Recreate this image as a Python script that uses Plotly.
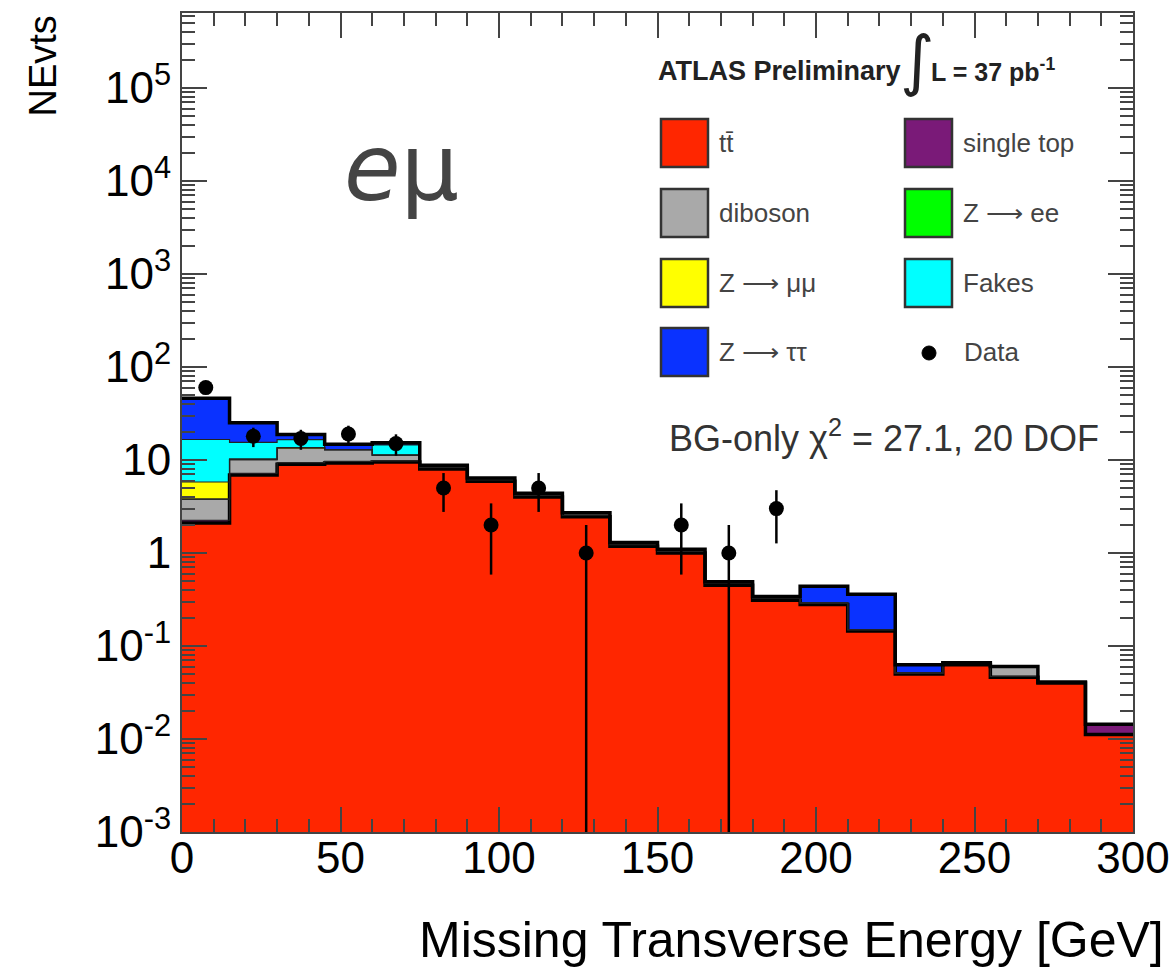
import numpy as np
import plotly.graph_objects as go

# ---------------- data ----------------
bin_edges = [0, 15, 30, 45, 60, 75, 90, 105, 120, 135, 150, 165, 180, 195, 210, 225, 240, 255, 270, 285, 300]

ttbar = [2.1, 6.9, 9.0, 9.3, 9.5, 8.0, 5.9, 4.0, 2.45, 1.18, 1.0, 0.45, 0.31, 0.28, 0.145, 0.05, 0.063, 0.046, 0.040, 0.0112]
single_top = [0.15, 0.3, 0.35, 0.35, 0.3, 0.3, 0.2, 0.15, 0.1, 0.05, 0.04, 0.02, 0.015, 0.01, 0.005, 0.001, 0.003, 0.001, 0.001, 0.0032]
diboson = [1.55, 2.9, 4.1, 3.3, 1.5, 0.4, 0.3, 0.25, 0.15, 0.07, 0.06, 0.02, 0.015, 0.0, 0.0, 0.0, 0.0, 0.013, 0.0, 0.0]
z_ee = [0.0] * 20
z_mumu = [2.0, 0.2, 0.1, 0.0, 0.0, 0.0, 0.0, 0.0, 0.0, 0.0, 0.0, 0.0, 0.0, 0.0, 0.0, 0.0, 0.0, 0.0, 0.0, 0.0]
fakes = [10.8, 5.2, 3.0, 0.0, 3.2, 0.1, 0.0, 0.0, 0.0, 0.0, 0.0, 0.0, 0.0, 0.0, 0.0, 0.0, 0.0, 0.0, 0.0, 0.0]
z_tautau = [29.4, 9.7, 2.3, 1.8, 0.8, 0.0, 0.0, 0.0, 0.0, 0.0, 0.0, 0.0, 0.0, 0.15, 0.21, 0.012, 0.0, 0.0, 0.0, 0.0]
data_counts = [60, 18, 17, 19, 15, 5, 2, 5, 1, 0, 2, 1, 3, 0, 0, 0, 0, 0, 0, 0]

y_tickvals = [1e-3, 1e-2, 1e-1, 1, 10, 100, 1e3, 1e4, 1e5]
y_ticktext = ["10<sup>-3</sup>", "10<sup>-2</sup>", "10<sup>-1</sup>", "1", "10",
              "10<sup>2</sup>", "10<sup>3</sup>", "10<sup>4</sup>", "10<sup>5</sup>"]

components = [
    ("tt\u0304", ttbar, "#ff2600"),
    ("single top", single_top, "#7a1a78"),
    ("diboson", diboson, "#a9a9a9"),
    ("Z \u27f6 ee", z_ee, "#00ff00"),
    ("Z \u27f6 \u03bc\u03bc", z_mumu, "#ffff00"),
    ("Fakes", fakes, "#00ffff"),
    ("Z \u27f6 \u03c4\u03c4", z_tautau, "#0a32ff"),
]

# ---------------- figure ----------------
edges = np.array(bin_edges, dtype=float)
centers = 0.5 * (edges[:-1] + edges[1:])
widths = np.diff(edges)

fig = go.Figure()

for name, vals, col in components:
    fig.add_trace(go.Bar(x=centers, y=vals, width=widths, marker=dict(color=col, line=dict(width=0)),
                         name=name, showlegend=False))

# outline step lines of cumulative stack
cum = np.zeros(len(centers))
n_comp = len(components)
for i, (name, vals, col) in enumerate(components):
    cum = cum + np.array(vals)
    ys = list(cum) + [cum[-1]]
    if i == 0 or i == n_comp - 1:
        lw, lc = 3.5, "black"
    else:
        lw, lc = 1.2, "#222222"
    fig.add_trace(go.Scatter(x=edges, y=ys, mode="lines", line=dict(shape="hv", color=lc, width=lw),
                             showlegend=False, hoverinfo="skip"))

# data points with sqrt(N) errors
dc = np.array(data_counts, dtype=float)
mask = dc > 0
ex, ey = [], []
for xc, n in zip(centers[mask], dc[mask]):
    lo = max(n - np.sqrt(n), 1e-5)
    hi = n + np.sqrt(n)
    ex += [xc, xc, None]
    ey += [lo, hi, None]
fig.add_trace(go.Scatter(x=ex, y=ey, mode="lines", line=dict(color="black", width=2.5),
                         showlegend=False, hoverinfo="skip"))
fig.add_trace(go.Scatter(x=centers[mask], y=dc[mask], mode="markers",
                         marker=dict(color="black", size=15, symbol="circle"),
                         showlegend=False))

# ---------------- layout ----------------
W, H = 1173, 972
L, R, T, B = 182, 40, 13, 140
pw, ph = W - L - R, H - T - B


def px2x(px):
    return (px - L) / pw


def py2y(py):
    return (H - B - py) / ph


y_minor = []
for e in range(-3, 6):
    for k in range(2, 10):
        v = k * 10.0 ** e
        if v < 6.4e5:
            y_minor.append(v)

FONT = "Liberation Sans, Arial, sans-serif"

fig.update_layout(
    width=W, height=H,
    margin=dict(l=L, r=R, t=T, b=B, autoexpand=False),
    paper_bgcolor="white", plot_bgcolor="white",
    barmode="stack", bargap=0,
    showlegend=False,
    font=dict(family=FONT, color="black"),
)

fig.update_xaxes(
    range=[0, 300], tickmode="linear", tick0=0, dtick=50, automargin=False,
    ticks="inside", ticklen=25, tickwidth=2, tickcolor="#444",
    showline=True, linecolor="#444", linewidth=2, mirror="allticks",
    showgrid=False, zeroline=False, ticklabelstandoff=-14,
    tickfont=dict(size=44, family=FONT, color="black"),
    minor=dict(tickmode="linear", tick0=0, dtick=10, ticks="inside", ticklen=13, tickwidth=2, tickcolor="#444",
               showgrid=False),
)
fig.update_yaxes(
    type="log", range=[-3, 5.806], automargin=False,
    tickmode="array", tickvals=y_tickvals, ticktext=y_ticktext,
    ticks="inside", ticklen=25, tickwidth=2, tickcolor="#444",
    showline=True, linecolor="#444", linewidth=2, mirror="allticks",
    showgrid=False, zeroline=False,
    tickfont=dict(size=44, family=FONT, color="black"),
    minor=dict(tickmode="array", tickvals=y_minor, ticks="inside", ticklen=13, tickwidth=1.5, tickcolor="#444",
               showgrid=False),
)

ann = []
shapes = []

# axis titles
ann.append(dict(text="Missing Transverse Energy [GeV]", xref="paper", yref="paper",
                x=px2x(1166), y=py2y(940), xanchor="right", yanchor="middle",
                showarrow=False, font=dict(size=50, family=FONT, color="black")))
ann.append(dict(text="NEvts", xref="paper", yref="paper", textangle=-90,
                x=px2x(42), y=py2y(14), xanchor="center", yanchor="top",
                showarrow=False, font=dict(size=38, family=FONT, color="black")))

# eμ label
ann.append(dict(text="<i>e</i>\u03bc", xref="paper", yref="paper",
                x=px2x(401), y=py2y(168), xanchor="center", yanchor="middle",
                showarrow=False, font=dict(size=92, family="DejaVu Sans, sans-serif", color="#444444")))

# ATLAS header
ann.append(dict(text="<b>ATLAS Preliminary</b>", xref="paper", yref="paper",
                x=px2x(656), y=py2y(71), xanchor="left", yanchor="middle",
                showarrow=False, font=dict(size=27, family=FONT, color="#222")))
ann.append(dict(text="\u222b", xref="paper", yref="paper",
                x=px2x(917), y=py2y(60), xanchor="center", yanchor="middle",
                showarrow=False, font=dict(size=66, family="DejaVu Sans, sans-serif", color="#222")))
ann.append(dict(text="<b>L = 37 pb<sup>-1</sup></b>", xref="paper", yref="paper",
                x=px2x(929), y=py2y(70), xanchor="left", yanchor="middle",
                showarrow=False, font=dict(size=25, family=FONT, color="#222")))

# chi2 text
ann.append(dict(text="BG-only \u03c7<sup>2</sup> = 27.1, 20 DOF", xref="paper", yref="paper",
                x=px2x(1101), y=py2y(436), xanchor="right", yanchor="middle",
                showarrow=False, font=dict(size=36, family=FONT, color="#333")))

# manual legend (2 columns)
legend_order = [
    (components[0], 0, 0), (components[1], 1, 0),
    (components[2], 0, 1), (components[3], 1, 1),
    (components[4], 0, 2), (components[5], 1, 2),
    (components[6], 0, 3),
]
col_box_x = [661, 905]
row_cy = [143, 213, 283, 352]
bw, bh = 47, 48
for (name, vals, col), c, r in legend_order:
    x0 = col_box_x[c]
    cy = row_cy[r]
    shapes.append(dict(type="rect", xref="paper", yref="paper",
                       x0=px2x(x0), x1=px2x(x0 + bw), y0=py2y(cy + bh / 2), y1=py2y(cy - bh / 2),
                       fillcolor=col, line=dict(color="#333", width=2.5), layer="above"))
    ann.append(dict(text=name, xref="paper", yref="paper",
                    x=px2x(x0 + bw + 9), y=py2y(cy), xanchor="left", yanchor="middle",
                    showarrow=False, font=dict(size=26, family=FONT, color="#444")))
# data legend entry
shapes.append(dict(type="circle", xref="paper", yref="paper",
                   x0=px2x(929 - 7), x1=px2x(929 + 7), y0=py2y(353 + 7), y1=py2y(353 - 7),
                   fillcolor="black", line=dict(color="black", width=1), layer="above"))
ann.append(dict(text="Data", xref="paper", yref="paper",
                x=px2x(962), y=py2y(352), xanchor="left", yanchor="middle",
                showarrow=False, font=dict(size=26, family=FONT, color="#444")))

fig.update_layout(annotations=ann, shapes=shapes)

fig.write_html("out.html")
